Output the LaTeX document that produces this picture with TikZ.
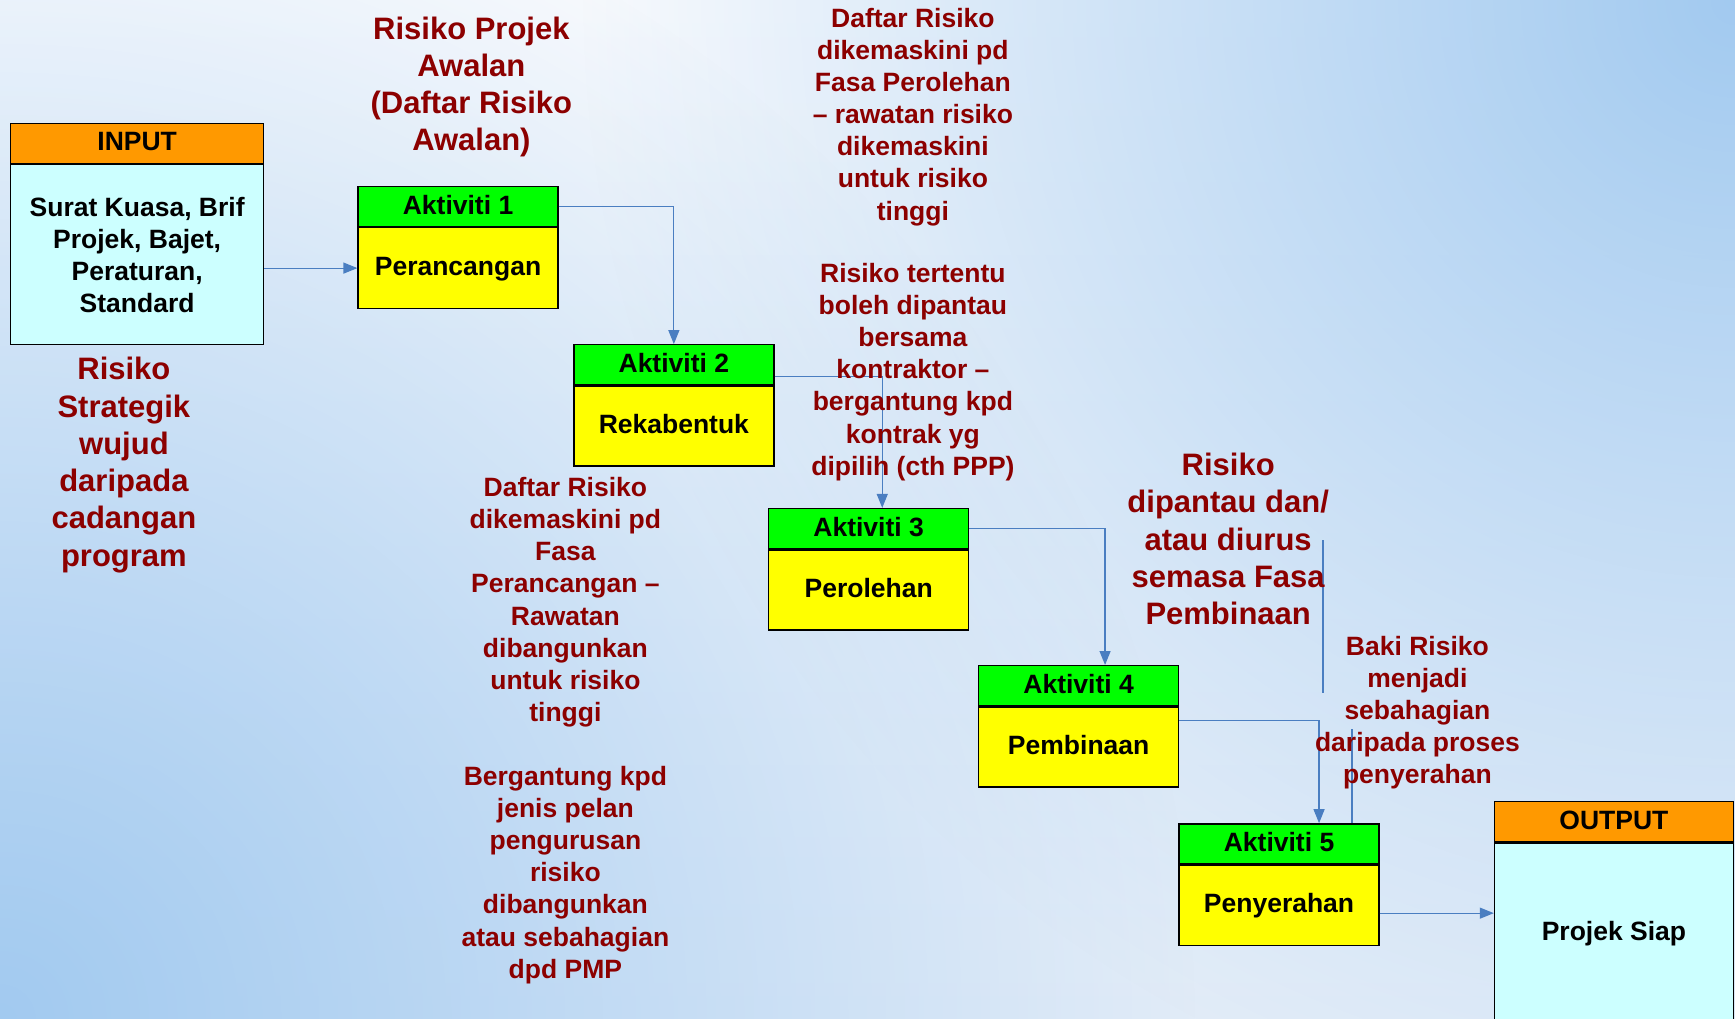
\documentclass[tikz,border=0pt]{standalone}
\usepackage{fontspec}
\setmainfont{Liberation Sans}
\usetikzlibrary{arrows.meta,calc,fadings}
\definecolor{riskred}{RGB}{140,0,0}
\definecolor{lnblue}{RGB}{74,126,193}
\definecolor{hdgreen}{RGB}{0,255,0}
\definecolor{bdyellow}{RGB}{255,255,0}
\definecolor{hdorange}{RGB}{255,153,0}
\definecolor{bdcyan}{RGB}{204,255,255}
\definecolor{bgblue}{RGB}{162,202,240}
\definecolor{bgtop}{RGB}{248,250,253}
\definecolor{bgbot}{RGB}{226,236,248}
\tikzfading[name=blobfade, inner color=transparent!0, outer color=transparent!100]
\begin{document}
\begin{tikzpicture}[x=1pt,y=-1pt,
  boxfont/.style={font=\fontsize{26.5}{32}\selectfont\bfseries},
  box/.style={boxfont, draw=black, line width=1.3pt, inner sep=0pt, align=center},
  hdr/.style={box, minimum height=40pt, text height=15pt, text depth=0pt, anchor=north west},
  body/.style={box, anchor=north},
  riskL/.style={font=\fontsize{31}{37.3}\selectfont\bfseries, text=riskred, align=center, inner sep=0pt},
  riskS/.style={font=\fontsize{26.5}{32.1}\selectfont\bfseries, text=riskred, align=center, inner sep=0pt},
  ln/.style={draw=lnblue, line width=1.2pt},
  arr/.style={ln, -{Triangle[width=11pt,length=14pt]}}
]
\useasboundingbox (0,0) rectangle (1735,1019);
\begin{scope}
\clip (0,0) rectangle (1735,1019);
\shade[top color=bgtop, bottom color=bgbot] (0,0) rectangle (1735,1019);
\fill[bgblue, path fading=blobfade] (1735,0) circle (1150);
\fill[bgblue, path fading=blobfade] (0,1019) circle (1200);

% INPUT
\node[hdr, fill=hdorange, minimum width=253pt] (inh) at (10,122.8) {INPUT};
\node[body, fill=bdcyan, minimum width=253pt, minimum height=180pt] (inb) at (inh.south) {\raisebox{2pt}{\parbox{250pt}{\centering Surat Kuasa, Brif\\Projek, Bajet,\\Peraturan,\\Standard}}};

% Activities
\node[hdr, fill=hdgreen, minimum width=200pt] (a1h) at (357.4,185.9) {Aktiviti 1};
\node[body, fill=bdyellow, minimum width=200pt, minimum height=80.5pt, text height=15pt, text depth=0pt] (a1b) at (a1h.south) {Perancangan};

\node[hdr, fill=hdgreen, minimum width=200pt] (a2h) at (573.2,344.1) {Aktiviti 2};
\node[body, fill=bdyellow, minimum width=200pt, minimum height=80pt, text height=15pt, text depth=0pt] (a2b) at (a2h.south) {Rekabentuk};

\node[hdr, fill=hdgreen, minimum width=200pt] (a3h) at (768,507.9) {Aktiviti 3};
\node[body, fill=bdyellow, minimum width=200pt, minimum height=80pt, text height=15pt, text depth=0pt] (a3b) at (a3h.south) {Perolehan};

\node[hdr, fill=hdgreen, minimum width=200pt] (a4h) at (978,665) {Aktiviti 4};
\node[body, fill=bdyellow, minimum width=200pt, minimum height=80pt, text height=15pt, text depth=0pt] (a4b) at (a4h.south) {Pembinaan};

\node[hdr, fill=hdgreen, minimum width=200pt] (a5h) at (1178.4,823.2) {Aktiviti 5};
\node[body, fill=bdyellow, minimum width=200pt, minimum height=80pt, text height=15pt, text depth=0pt] (a5b) at (a5h.south) {Penyerahan};

% OUTPUT
\node[hdr, fill=hdorange, minimum width=239pt] (outh) at (1493.8,801) {OUTPUT};
\node[body, fill=bdcyan, minimum width=239pt, minimum height=180pt, text height=15pt, text depth=0pt] (outb) at (outh.south) {Projek Siap};

% connectors
\draw[arr] (a1b.west -| inb.east) -- (a1b.west);
\draw[arr] (a1h.east) -| (a2h.north);
\draw[arr] ([yshift=-12pt]a2h.east) -| ([xshift=13.6pt]a3h.north);
\draw[arr] (a3h.east) -| ([xshift=26.4pt]a4h.north);
\draw[arr] ([yshift=-14pt]a4b.north east) -| ([xshift=40pt]a5h.north);
\draw[arr] ([yshift=-8pt]a5b.east) -- ([yshift=-8pt]a5b.east -| outb.west);

\coordinate (f1a) at (1323,540);
\coordinate (f1b) at (1323,693);
\draw[ln] (f1a) -- (f1b);
\coordinate (f2a) at (1352,729);
\draw[ln] (f2a) -- (f2a |- a5h.north);

% risk texts
\node[riskL] (t1) at (471.4,87) {Risiko Projek\\Awalan\\(Daftar Risiko\\Awalan)};
\node[riskL] (t2) at (123.9,465) {Risiko\\Strategik\\wujud\\daripada\\cadangan\\program};
\node[riskS] (t3) at (912.9,117) {Daftar Risiko\\dikemaskini pd\\Fasa Perolehan\\– rawatan risiko\\dikemaskini\\untuk risiko\\tinggi};
\node[riskS] (t4) at (912.9,372) {Risiko tertentu\\boleh dipantau\\bersama\\kontraktor –\\bergantung kpd\\kontrak yg\\dipilih (cth PPP)};
\node[riskS] (t5) at (565.4,730.5) {Daftar Risiko\\dikemaskini pd\\Fasa\\Perancangan –\\Rawatan\\dibangunkan\\untuk risiko\\tinggi\\[32.1pt]Bergantung kpd\\jenis pelan\\pengurusan\\risiko\\dibangunkan\\atau sebahagian\\dpd PMP};
\node[riskL] (t6) at (1228.2,539) {Risiko\\dipantau dan/\\atau diurus\\semasa Fasa\\Pembinaan};
\node[riskS] (t7) at (1417.4,712.5) {Baki Risiko\\menjadi\\sebahagian\\daripada proses\\penyerahan};
\end{scope}
\end{tikzpicture}
\end{document}
